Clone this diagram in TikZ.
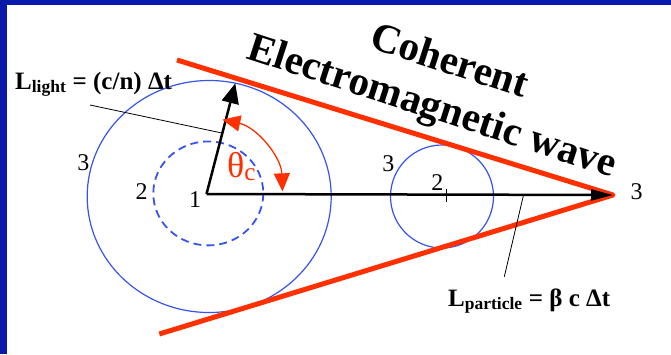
\documentclass[tikz,border=0pt]{standalone}
\usepackage{fontspec}
\setmainfont{Liberation Serif}
\usetikzlibrary{arrows.meta,calc}
\definecolor{frameblue}{RGB}{8,26,170}
\definecolor{wavered}{RGB}{255,48,0}
\definecolor{circblue}{RGB}{55,85,235}

\begin{document}
\begin{tikzpicture}[x=1pt,y=-1pt,
  num/.style={font=\fontsize{24}{28}\selectfont, inner sep=0pt},
  lab/.style={font=\bfseries\fontsize{25}{28}\selectfont, inner sep=0pt},
  wavetxt/.style={font=\bfseries\fontsize{41}{48}\selectfont, inner sep=0pt, rotate=-18},
  front/.style={wavered, line width=5pt, line join=round},
  wavefront/.style={circblue, line width=1.2pt},
  leader/.style={black, line width=0.8pt}]
\def\rbig{76}
\def\aup{78}
\def\alow{2}

\useasboundingbox (0,0) rectangle (671,354);
% Frame
\fill[frameblue] (0,0) rectangle (671,354);
\fill[white] (7,5) rectangle (671,354);

% Points 1, 2, 3
\coordinate (O) at (206.5,194);
\coordinate (P) at (446,195);
\coordinate (A) at (613,195);
\coordinate (T) at (235.3,83.3);

% Wave fronts
\draw[wavefront] (209.2,196.5) ellipse [x radius=122, y radius=116];
\draw[wavefront, line width=1.8pt, dash pattern=on 8pt off 5pt] (208.3,193.4) ellipse [x radius=55, y radius=52];
\draw[wavefront] (442,196.5) circle (51.5);

% Cone
\coordinate (U) at (177,60);
\coordinate (L) at (159.3,334);
\draw[front] (U) -- (A) -- (L);

% Particle track and light ray
\draw[line width=2.5pt, -{Triangle[length=22pt,width=11pt]}] (O) -- (A);
\draw[line width=2.5pt, -{Triangle[length=20pt,width=17pt]}] (O) -- (T);
\draw[line width=1pt] (P) ++(0,-6) -- ++(0,13);

% Cherenkov angle
\draw[wavered, line width=1.3pt, {Triangle[length=18pt,width=16pt]}-{Triangle[length=18pt,width=16pt]}]
  (O) ++(-\aup:\rbig) arc[start angle=-\aup, end angle=-\alow, radius=\rbig];
\node[text=wavered, font=\fontsize{36}{40}\selectfont, inner sep=0pt, anchor=base west] (theta) at (227,177) {θ\textsubscript{c}};

% Labels
\coordinate (ml) at ($(O)!0.55!(T)$);
\coordinate (mp) at ($(O)!0.78!(A)$);
\node[lab, anchor=base west] (llight) at (15,89) {L\textsubscript{light} = (c/n) Δt};
\node[lab, anchor=base west] (lpart) at (448,306) {L\textsubscript{particle} = β c Δt};
\draw[leader] (90,105) -- (ml);
\draw[leader] (mp) -- (504.3,276.7);

\node[num] (n3a) at (83.3,162.3) {3};
\node[num] (n2a) at (141.7,191.7) {2};
\node[num] (n1) at (195,200) {1};
\node[num] (n3b) at (388.3,163.3) {3};
\node[num] (n2b) at (437.3,182.7) {2};
\node[num] (n3c) at (636.7,191.7) {3};

\node[wavetxt, anchor=base] (coh) at (445.8,72.9) {Coherent};
\node[wavetxt, anchor=base] (emw) at (428.5,117.8) {Electromagnetic wave};
\end{tikzpicture}
\end{document}
